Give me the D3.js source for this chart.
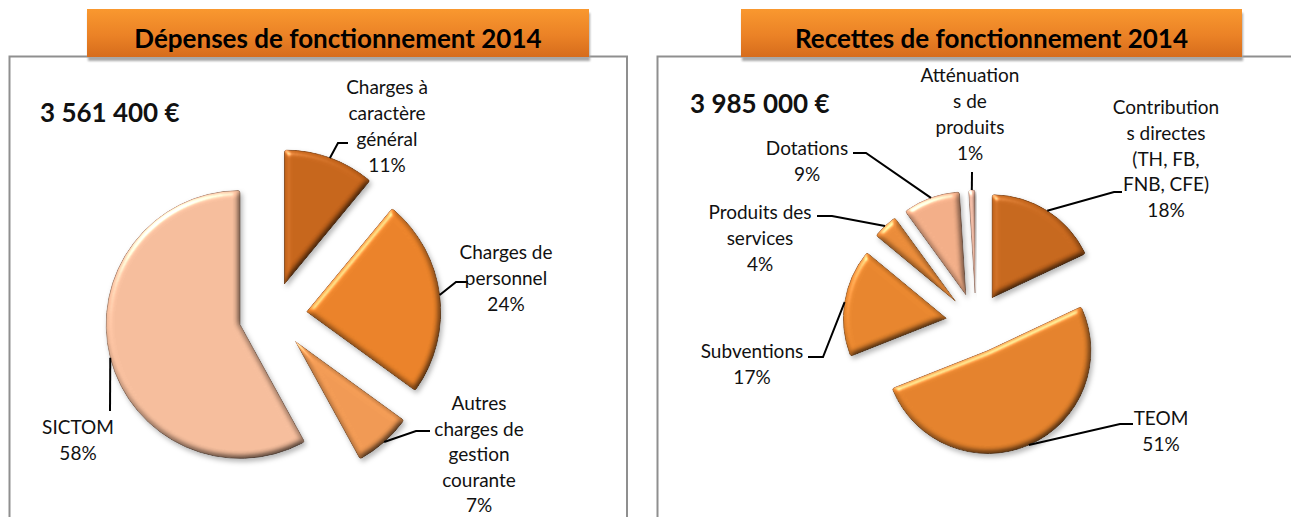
<!DOCTYPE html>
<html>
<head>
<meta charset="utf-8">
<script src="https://cdnjs.cloudflare.com/ajax/libs/d3/7.8.5/d3.min.js"></script>
<style>
  body { margin: 0; background: #fff; }
  svg { display: block; font-family: Lato, "Open Sans", sans-serif; }
</style>
</head>
<body>
<svg id="chart"></svg>
<script>
// ---- data ----
const depTitle = 'Dépenses de fonctionnement 2014';
const depTotal = '3 561 400 €';
const depCategories = ['Charges à caractère général', 'Charges de personnel',
  'Autres charges de gestion courante', 'SICTOM'];
const depValues = [11, 24, 7, 58];
const depLabelLines = [['Charges à', 'caractère', 'général'], ['Charges de', 'personnel'],
  ['Autres', 'charges de', 'gestion', 'courante'], ['SICTOM']];

const recTitle = 'Recettes de fonctionnement 2014';
const recTotal = '3 985 000 €';
const recCategories = ['Contributions directes (TH, FB, FNB, CFE)', 'TEOM', 'Subventions',
  'Produits des services', 'Dotations', 'Atténuations de produits'];
const recValues = [18, 51, 17, 4, 9, 1];
const recLabelLines = [['Contribution', 's directes', '(TH, FB,', 'FNB, CFE)'], ['TEOM'],
  ['Subventions'], ['Produits des', 'services'], ['Dotations'], ['Atténuation', 's de', 'produits']];

// ---- styles ----
const depColors = ['#c5641a', '#e98128', '#ef9852', '#f4bc9b'];
const recColors = ['#c5661c', '#e3812b', '#e6842c', '#e88a38', '#f1ad87', '#ecb7a1'];

// where excel put each data label: centre x, first baseline, line height, leader elbow and tail
const depLabelLayout = [
  { x: 387, y: 94, step: 26, elbow: [338, 143], tail: 348 },
  { x: 506, y: 259, step: 26, elbow: [456, 282], tail: 468 },
  { x: 479, y: 410, step: 25.5, elbow: [416, 431], tail: 430 },
  { x: 78, y: 434, step: 26, elbow: [110, 411], tail: 110 },
];
const recLabelLayout = [
  { x: 1166, y: 114, step: 25.8, elbow: [1114, 192], tail: 1122 },
  { x: 1161, y: 425, step: 26, elbow: [1120, 424], tail: 1133 },
  { x: 752, y: 358, step: 26, elbow: [823, 357], tail: 808 },
  { x: 760, y: 219, step: 26, elbow: [832, 216], tail: 817 },
  { x: 807, y: 155, step: 26, elbow: [866, 153], tail: 853 },
  { x: 970, y: 82, step: 26, elbow: [972, 172], tail: 972 },
];

const width = 1291;
const height = 517;

const svg = d3.select('#chart').attr('width', width).attr('height', height);
const defs = svg.append('defs');

// orange gradient for the title banners
const bannerGrad = defs.append('linearGradient').attr('id', 'bannerGrad')
  .attr('x1', 0).attr('y1', 0).attr('x2', 0).attr('y2', 1);
bannerGrad.append('stop').attr('offset', '0%').attr('stop-color', '#f9982f');
bannerGrad.append('stop').attr('offset', '55%').attr('stop-color', '#eb8226');
bannerGrad.append('stop').attr('offset', '100%').attr('stop-color', '#d66c1c');

defs.append('filter').attr('id', 'soft')
  .append('feGaussianBlur').attr('stdDeviation', 1.2);

// soft round bevel, the office "3d" look of the slices
const bevel = defs.append('filter').attr('id', 'bevel')
  .attr('x', '-20%').attr('y', '-20%').attr('width', '140%').attr('height', '140%')
  .attr('color-interpolation-filters', 'sRGB');
bevel.append('feGaussianBlur').attr('in', 'SourceAlpha').attr('stdDeviation', 3).attr('result', 'blur');
// diffuse: flat area stays at 1, edges turned away from the light get darker
bevel.append('feDiffuseLighting').attr('in', 'blur').attr('surfaceScale', 3.5)
  .attr('diffuseConstant', 1.13).attr('lighting-color', '#fff').attr('result', 'diff')
  .append('feDistantLight').attr('azimuth', 235).attr('elevation', 62);
bevel.append('feComposite').attr('in', 'SourceGraphic').attr('in2', 'diff')
  .attr('operator', 'arithmetic').attr('k1', 1).attr('k2', 0).attr('k3', 0).attr('k4', 0)
  .attr('result', 'shaded');
// specular: a thin highlight on the edges facing the light
bevel.append('feSpecularLighting').attr('in', 'blur').attr('surfaceScale', 3.5)
  .attr('specularConstant', 0.9).attr('specularExponent', 30).attr('lighting-color', '#fff')
  .attr('result', 'spec')
  .append('feDistantLight').attr('azimuth', 235).attr('elevation', 35);
bevel.append('feComposite').attr('in', 'spec').attr('in2', 'SourceAlpha')
  .attr('operator', 'in').attr('result', 'specIn');
bevel.append('feComposite').attr('in', 'shaded').attr('in2', 'specIn')
  .attr('operator', 'arithmetic').attr('k1', 0).attr('k2', 1).attr('k3', 0.5).attr('k4', 0)
  .attr('result', 'lit');
bevel.append('feComposite').attr('in', 'lit').attr('in2', 'SourceAlpha')
  .attr('operator', 'in').attr('result', 'litIn');
bevel.append('feOffset').attr('in', 'SourceAlpha').attr('dx', 2).attr('dy', 3).attr('result', 'off');
bevel.append('feGaussianBlur').attr('in', 'off').attr('stdDeviation', 2.5).attr('result', 'offBlur');
bevel.append('feFlood').attr('flood-color', '#000').attr('flood-opacity', 0.28).attr('result', 'flood');
bevel.append('feComposite').attr('in', 'flood').attr('in2', 'offBlur').attr('operator', 'in')
  .attr('result', 'shadow');
const merge = bevel.append('feMerge');
merge.append('feMergeNode').attr('in', 'shadow');
merge.append('feMergeNode').attr('in', 'litIn');

/**
 * draws one panel: grey frame, orange banner, total, exploded pie and labels
 */
function drawPanel({
  frame, banner, title, total, totalPos, categories, values, labelLines, colors, layout,
  center, radius, explode,
}) {
  const g = svg.append('g');

  // grey frame, open at the bottom (it runs off the picture)
  g.append('rect')
    .attr('x', frame.x).attr('y', frame.y)
    .attr('width', frame.w).attr('height', frame.h)
    .attr('fill', 'none').attr('stroke', '#8f8f8f').attr('stroke-width', 2);

  // banner with its shadow
  g.append('rect')
    .attr('x', banner.x + 1).attr('y', banner.y + 4)
    .attr('width', banner.w).attr('height', banner.h)
    .attr('fill', '#a8a8a8').attr('filter', 'url(#soft)');
  g.append('rect')
    .attr('x', banner.x).attr('y', banner.y)
    .attr('width', banner.w).attr('height', banner.h)
    .attr('fill', 'url(#bannerGrad)');
  g.append('text')
    .attr('x', banner.x + banner.w / 2).attr('y', banner.y + 39)
    .attr('text-anchor', 'middle')
    .attr('font-size', 26).attr('font-weight', 700).attr('fill', '#000')
    .text(title);

  g.append('text')
    .attr('x', totalPos[0]).attr('y', totalPos[1])
    .attr('font-size', 26).attr('font-weight', 700).attr('fill', '#111')
    .text(total);

  const data = categories.map((name, i) => ({
    name, value: values[i], lines: labelLines[i], color: colors[i], layout: layout[i],
  }));

  const pie = d3.pie().sort(null).value(d => d.value);
  const arc = d3.arc().innerRadius(0).outerRadius(radius).cornerRadius(2);
  const arcs = pie(data);

  const dir = a => [Math.sin(a), -Math.cos(a)];

  // slices, each pushed out along its bisector
  g.append('g').selectAll('path')
    .data(arcs)
    .join('path')
    .attr('transform', (d) => {
      const [ux, uy] = dir((d.startAngle + d.endAngle) / 2);
      return `translate(${center[0] + ux * explode},${center[1] + uy * explode})`;
    })
    .attr('d', arc)
    .attr('fill', d => d.data.color)
    .attr('stroke', d => d3.color(d.data.color).darker(1.2))
    .attr('stroke-width', 0.9)
    .attr('filter', 'url(#bevel)');

  // leader lines: from the middle of the arc to the label
  g.append('g').selectAll('path')
    .data(arcs)
    .join('path')
    .attr('d', (d) => {
      const [ux, uy] = dir((d.startAngle + d.endAngle) / 2);
      const px = center[0] + ux * (explode + radius);
      const py = center[1] + uy * (explode + radius);
      const { elbow, tail } = d.data.layout;
      return `M${px},${py}L${elbow[0]},${elbow[1]}L${tail},${elbow[1]}`;
    })
    .attr('fill', 'none')
    .attr('stroke', '#000')
    .attr('stroke-width', 2);

  // data labels: category lines plus the percentage
  const labels = g.append('g').selectAll('text')
    .data(arcs)
    .join('text')
    .attr('text-anchor', 'middle')
    .attr('font-size', 19)
    .attr('fill', '#111');
  labels.each(function addLines(d) {
    const t = d3.select(this);
    const lines = [...d.data.lines, `${d.data.value}%`];
    lines.forEach((line, i) => {
      t.append('tspan')
        .attr('x', d.data.layout.x)
        .attr('y', d.data.layout.y + i * d.data.layout.step)
        .text(line);
    });
  });
}

drawPanel({
  frame: { x: 9.5, y: 56.5, w: 617.5, h: 520 },
  banner: { x: 87, y: 9, w: 502, h: 48 },
  title: depTitle,
  total: depTotal,
  totalPos: [40, 122],
  categories: depCategories,
  values: depValues,
  labelLines: depLabelLines,
  colors: depColors,
  layout: depLabelLayout,
  center: [273, 316],
  radius: 134,
  explode: 34,
});

drawPanel({
  frame: { x: 657.5, y: 56.5, w: 700, h: 520 },
  banner: { x: 741, y: 9, w: 501, h: 48 },
  title: recTitle,
  total: recTotal,
  totalPos: [690, 113],
  categories: recCategories,
  values: recValues,
  labelLines: recLabelLines,
  colors: recColors,
  layout: recLabelLayout,
  center: [976, 323],
  radius: 103,
  explode: 30,
});
</script>
</body>
</html>
